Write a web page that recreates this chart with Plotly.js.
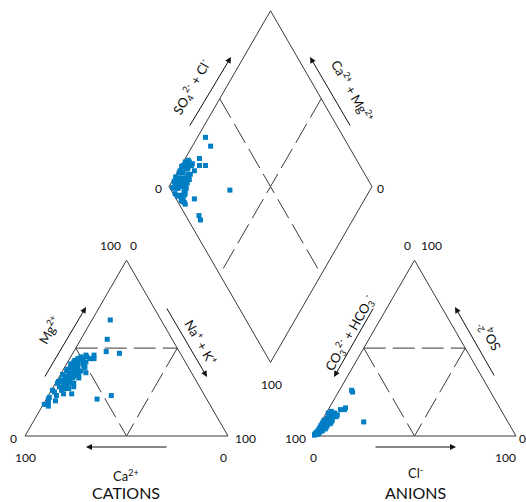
<!DOCTYPE html>
<html>
<head>
<meta charset="utf-8">
<script src="https://cdn.plot.ly/plotly-3.0.1.min.js"></script>
<style>html,body{margin:0;padding:0;background:#fff;}#chart{width:526px;height:502px;}</style>
</head>
<body>
<div id="chart"></div>
<script>
// ---- sample data (percent of meq) ----
// cations: Mg2+ and Na+ + K+ (Ca2+ is the remainder)
const mgPct  = [66,55,48,47,21,23,30,35,44,30,
  17,19,20,22,23,24,25,26,27,28,29,30,30,31,32,32,33,33,34,34,35,35,36,36,37,37,38,38,39,39,40,40,41,41,42,42,43,43,44,44,45,45,46,46,28,24,36,31,38,26,21,18,34,29,42,40,33,27,44,36];
const naKPct = [9,13,16,23,25,31,4,9,12,7,
  3,2,5,1,4,7,2,5,8,3,6,1,9,4,6,2,7,10,3,5,8,1,6,4,9,2,7,5,3,10,6,4,8,2,5,9,7,3,6,10,8,5,7,11,10,11,12,1,2,0.5,1,0.5,7,5,3,9,4,6,4,8];
// anions: SO4 2- and Cl- (CO3 2- + HCO3- is the remainder)
const so4Pct = [15,2,7,5,4,8,26,25,16,15,
  2,1,3,2,4,1,5,3,2,6,4,7,2,5,8,3,6,1,9,4,7,10,5,11,3,8,12,6,13,4,9,14,7,11,12,5,10,13,8,3,6,12,9,2,1,2,2,11,13,9,8,4,1,0.5,1,6,3,6,9,11];
const clPct  = [6,1,2,1.5,2,21,6,7,8,8,
  1,0.5,1,2,1,1,2,3,1,1,2,3,2,4,2,1,3,2,2,4,1,3,2,4,3,5,2,3,1,2,4,2,5,3,5,1,2,4,3,2,4,6,1,1,1,0.5,1,4,4,3,1,2,0.5,0.5,1,2,2,2,5,6];

// tick labels
const cationTicks = {apex:['100','0'], baseLeft:['0','100'], baseRight:['100','0']};
const anionTicks  = {apex:['0','100'], baseLeft:['100','0'], baseRight:['0','100']};
const diamondTicks = {left:'0', right:'0', bottom:'100'};

// ---- geometry ----
const S = 203, H = S*Math.sqrt(3)/2, BY = 436, GAP = 85;
const cBL = 25, aBL = cBL + S + GAP;
const dBot = [cBL + S + GAP/2, BY - (GAP/2)*Math.sqrt(3)];
const dLeft = [dBot[0]-S/2, dBot[1]-H], dRight=[dBot[0]+S/2, dBot[1]-H], dTop=[dBot[0], dBot[1]-2*H];

function tri(x0, t, s){ return [x0 + t*S + s*S/2, BY - s*H]; }

const cx=[],cy=[],ax=[],ay=[],dx=[],dy=[];
for(let i=0;i<mgPct.length;i++){
  const m=mgPct[i]/100, n=naKPct[i]/100, s4=so4Pct[i]/100, c=clPct[i]/100;
  let p=tri(cBL,n,m); cx.push(p[0]); cy.push(p[1]);
  p=tri(aBL,c,s4); ax.push(p[0]); ay.push(p[1]);
  const s=s4+c;
  dx.push(dLeft[0] + (S/2)*(n+s)); dy.push(dLeft[1] + H*(n-s));
}

const mk = {symbol:'square', size:5, color:'rgb(0,126,196)', line:{width:0}};
const traces = [
  {type:'scatter',mode:'markers',x:cx,y:cy,marker:mk,hoverinfo:'skip'},
  {type:'scatter',mode:'markers',x:ax,y:ay,marker:mk,hoverinfo:'skip'},
  {type:'scatter',mode:'markers',x:dx,y:dy,marker:mk,hoverinfo:'skip'}
];

const LC='#3a3a3a';
const shapes=[];
function poly(pts, dash){
  let d='M'+pts.map(p=>p[0]+','+p[1]).join(' L')+' Z';
  shapes.push({type:'path',path:d,xref:'x',yref:'y',line:{color:LC,width:1,dash:dash||'solid'},layer:'below'});
}
function seg(a,b){
  shapes.push({type:'line',xref:'x',yref:'y',x0:a[0],y0:a[1],x1:b[0],y1:b[1],line:{color:LC,width:1,dash:'22px,7px'},layer:'below'});
}
function mid(a,b){return [(a[0]+b[0])/2,(a[1]+b[1])/2];}
[cBL,aBL].forEach(x0=>{
  const BL=[x0,BY], BR=[x0+S,BY], AP=[x0+S/2,BY-H];
  poly([BL,BR,AP]);
  const ml=mid(BL,AP), mr=mid(BR,AP), mb=mid(BL,BR);
  seg(ml,mr); seg(ml,mb); seg(mr,mb);
});
poly([dLeft,dTop,dRight,dBot]);
seg(mid(dLeft,dTop), mid(dRight,dBot));
seg(mid(dRight,dTop), mid(dLeft,dBot));

const FONT='Lato, "Open Sans", sans-serif';
const ann=[];
function lab(x,y,t,size,angle,xanchor){
  ann.push({x:x,y:y,xref:'x',yref:'y',text:t,showarrow:false,textangle:angle||0,
    font:{family:FONT,size:size,color:'#111'},xanchor:xanchor||'center',yanchor:'middle'});
}
function arr(x0,y0,x1,y1){
  ann.push({x:x1,y:y1,ax:x0,ay:y0,xref:'x',yref:'y',axref:'x',ayref:'y',text:'',showarrow:true,
    arrowhead:2,arrowsize:1.2,arrowwidth:1,arrowcolor:'#111',standoff:0,startstandoff:0});
}
// cation tick labels
lab(cBL+S/2-4,245,cationTicks.apex[0],12,0,'right');
lab(cBL+S/2+7,245,cationTicks.apex[1],12,0,'center');
lab(13,438,cationTicks.baseLeft[0],12);
lab(25,457,cationTicks.baseLeft[1],12);
lab(245,438,cationTicks.baseRight[0],12);
lab(223,457,cationTicks.baseRight[1],12);
// anion tick labels
lab(aBL+S/2-7,245,anionTicks.apex[0],12,0,'center');
lab(aBL+S/2+4,245,anionTicks.apex[1],12,0,'left');
lab(295,438,anionTicks.baseLeft[0],12);
lab(313,457,anionTicks.baseLeft[1],12);
lab(522,438,anionTicks.baseRight[0],12);
lab(505,457,anionTicks.baseRight[1],12);
// diamond tick labels
lab(158,188,diamondTicks.left,12);
lab(380,188,diamondTicks.right,12);
lab(271,384,diamondTicks.bottom,12);

// arrows
arr(44,378,86,307); arr(166,307,207,377); arr(168,447,86,447);
arr(374,307,334,377); arr(495,377,455,307); arr(374,447,456,447);
arr(189,127,231,57); arr(351,127,310,57);

// axis names
lab(48,330,'Mg<sup>2+</sup>',13,-60);
lab(202,342,'Na<sup>+</sup> + K<sup>+</sup>',13,60);
lab(126,475,'Ca<sup>2+</sup>',13);
lab(126,492,'CATIONS',16);
lab(349,333,'CO<sub>3</sub><sup>2-</sup> + HCO<sub>3</sub><sup>-</sup>',13,-60);
lab(489,337,'SO<sub>4</sub><sup>2-</sup>',13,-120);
lab(415,472,'Cl<sup>-</sup>',13);
lab(415,492,'ANIONS',16);
lab(191,87,'SO<sub>4</sub><sup>2-</sup> + Cl<sup>-</sup>',13,-60);
lab(353,90,'Ca<sup>2+</sup> + Mg<sup>2+</sup>',13,60);

const layout={width:526,height:502,margin:{l:0,r:0,t:0,b:0},paper_bgcolor:'#fff',plot_bgcolor:'#fff',
  showlegend:false,
  xaxis:{range:[0,526],visible:false,fixedrange:true},
  yaxis:{range:[502,0],visible:false,fixedrange:true},
  shapes:shapes,annotations:ann};
Plotly.newPlot('chart',traces,layout,{staticPlot:true,displayModeBar:false});
</script>
</body>
</html>
